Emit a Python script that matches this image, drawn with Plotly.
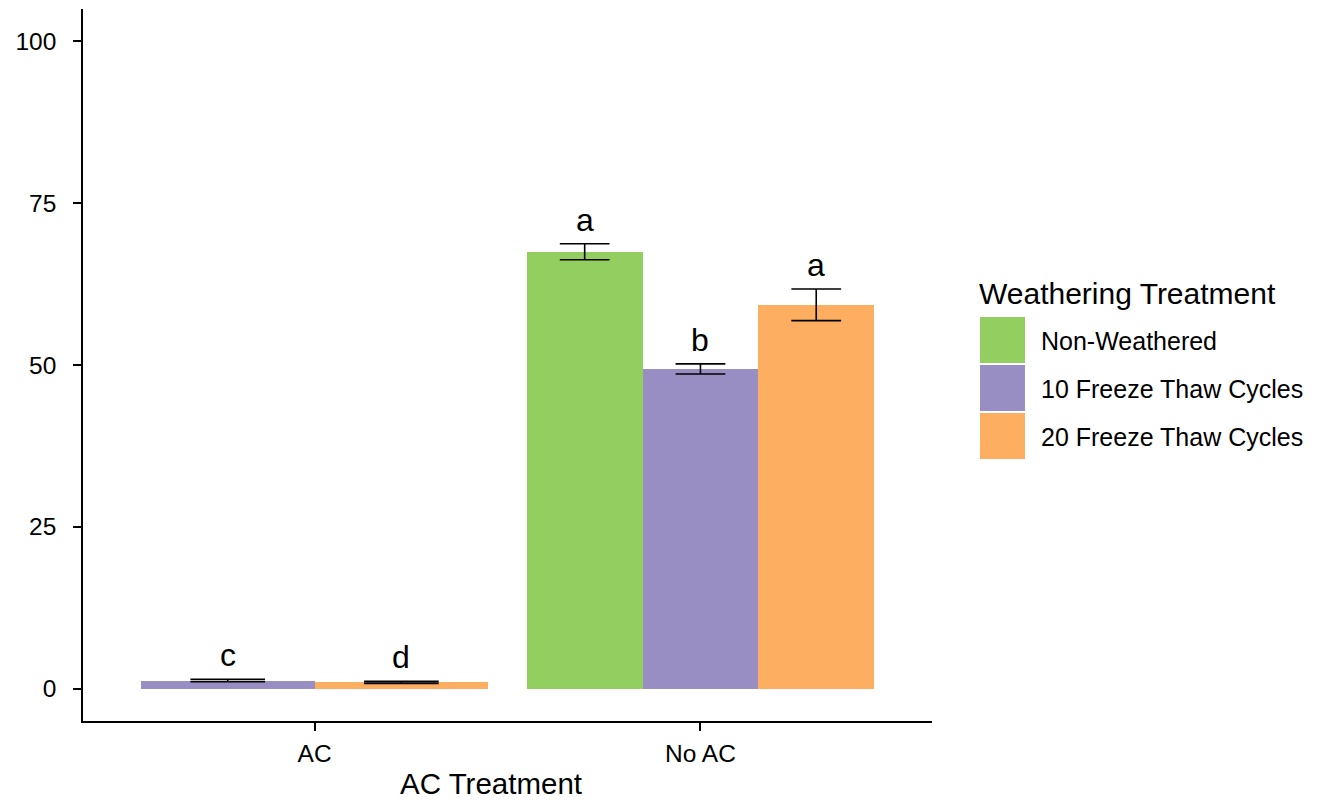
import plotly.graph_objects as go

# ---- data ----
categories = ["AC", "No AC"]
series = ["Non-Weathered", "10 Freeze Thaw Cycles", "20 Freeze Thaw Cycles"]
colors = ["#92CF60", "#998EC3", "#FDAE61"]
mean_nonweathered = [None, 67.5]
mean_ft10 = [1.25, 49.4]
mean_ft20 = [0.97, 59.3]
se_nonweathered = [None, 1.24]
se_ft10 = [0.18, 0.78]
se_ft20 = [0.15, 2.45]
letters_nonweathered = [None, "a"]
letters_ft10 = ["c", "b"]
letters_ft20 = ["d", "a"]
y_ticks = [0, 25, 50, 75, 100]

means = [mean_nonweathered, mean_ft10, mean_ft20]
ses = [se_nonweathered, se_ft10, se_ft20]
letters = [letters_nonweathered, letters_ft10, letters_ft20]

# ---- layout geometry (page body has an 8px margin) ----
OFF = 8
W, H = 1327 - OFF, 802 - OFF
PLOT_L, PLOT_R, PLOT_T, PLOT_B = 83, 932, 9, 721   # in page pixels
ML = PLOT_L - OFF
MT = PLOT_T - OFF
MR = W - (PLOT_R - OFF)
MB = H - (PLOT_B - OFF)
PW = PLOT_R - PLOT_L
PH = PLOT_B - PLOT_T
XR = [0.4, 2.6]
px_per_unit = PW / (XR[1] - XR[0])
DODGE = 0.9
FONT = "Liberation Sans, Arial, sans-serif"

def fx(px):
    return (px - PLOT_L) / PW

def fy(py):
    return (PLOT_B - py) / PH

# positions of bars (dodge only among present series in each category)
pos = {}
for ci, cat in enumerate(categories):
    present = [si for si in range(len(series)) if means[si][ci] is not None]
    n = len(present)
    w = DODGE / n
    for k, si in enumerate(present):
        pos[(si, ci)] = (ci + 1 - DODGE / 2 + (k + 0.5) * w, w)

fig = go.Figure()

for si, name in enumerate(series):
    xs, ys, ws = [], [], []
    for ci in range(len(categories)):
        if means[si][ci] is None:
            continue
        x, w = pos[(si, ci)]
        xs.append(x)
        ys.append(means[si][ci])
        ws.append(w)
    fig.add_trace(go.Bar(x=xs, y=ys, width=ws, name=name,
                         marker=dict(color=colors[si], line=dict(width=0)),
                         showlegend=False))

# error bars per category (cap width depends on bar width)
annotations = []
for ci in range(len(categories)):
    xs, ys, es = [], [], []
    capw = None
    for si in range(len(series)):
        if means[si][ci] is None:
            continue
        x, w = pos[(si, ci)]
        xs.append(x)
        ys.append(means[si][ci])
        es.append(ses[si][ci])
        capw = 0.43 * w * px_per_unit / 2
        annotations.append(dict(x=x, y=means[si][ci] + ses[si][ci], xref="x", yref="y",
                                text=letters[si][ci], showarrow=False, yanchor="bottom",
                                yshift=4, font=dict(size=32, color="black", family=FONT)))
    fig.add_trace(go.Scatter(x=xs, y=ys, mode="markers", marker=dict(opacity=0, size=1),
                             error_y=dict(type="data", array=es, visible=True, color="black",
                                          thickness=1.6, width=capw),
                             showlegend=False, hoverinfo="skip"))

# x-axis title
annotations.append(dict(x=fx(491), y=fy(783), xref="paper", yref="paper", text="AC Treatment",
                        showarrow=False, xanchor="center", yanchor="middle",
                        font=dict(size=29.5, color="black", family=FONT)))

# manual legend
shapes = []
annotations.append(dict(x=fx(977), y=fy(293), xref="paper", yref="paper", text="Weathering Treatment",
                        showarrow=False, xanchor="left", yanchor="middle",
                        font=dict(size=30, color="black", family=FONT)))
key_tops = [317, 365, 413]
for si, name in enumerate(series):
    t = key_tops[si]
    shapes.append(dict(type="rect", xref="paper", yref="paper", x0=fx(980), x1=fx(1025),
                       y0=fy(t + 46), y1=fy(t), fillcolor=colors[si], line=dict(width=0)))
    annotations.append(dict(x=fx(1039), y=fy(t + 24), xref="paper", yref="paper", text=name,
                            showarrow=False, xanchor="left", yanchor="middle",
                            font=dict(size=25, color="black", family=FONT)))

fig.update_layout(
    width=W, height=H,
    margin=dict(l=ML, r=MR, t=MT, b=MB),
    plot_bgcolor="white", paper_bgcolor="white",
    barmode="overlay",
    bargap=0,
    font=dict(family=FONT, size=24, color="black"),
    shapes=shapes,
    annotations=annotations,
    xaxis=dict(range=XR, tickmode="array", tickvals=[i + 1 for i in range(len(categories))],
               ticktext=categories, showgrid=False, zeroline=False, showline=True,
               linecolor="black", linewidth=1.5, ticks="outside", ticklen=8, tickwidth=1.5,
               tickcolor="black", tickfont=dict(size=24.5, color="black"), ticklabelstandoff=2),
    yaxis=dict(range=[-5, 105], tickmode="array", tickvals=y_ticks, showgrid=False,
               zeroline=False, showline=True, linecolor="black", linewidth=1.5,
               ticks="outside", ticklen=8, tickwidth=1.5, tickcolor="black",
               tickfont=dict(size=24.5, color="black"), ticklabelstandoff=12),
)

fig.write_html("out.html")
